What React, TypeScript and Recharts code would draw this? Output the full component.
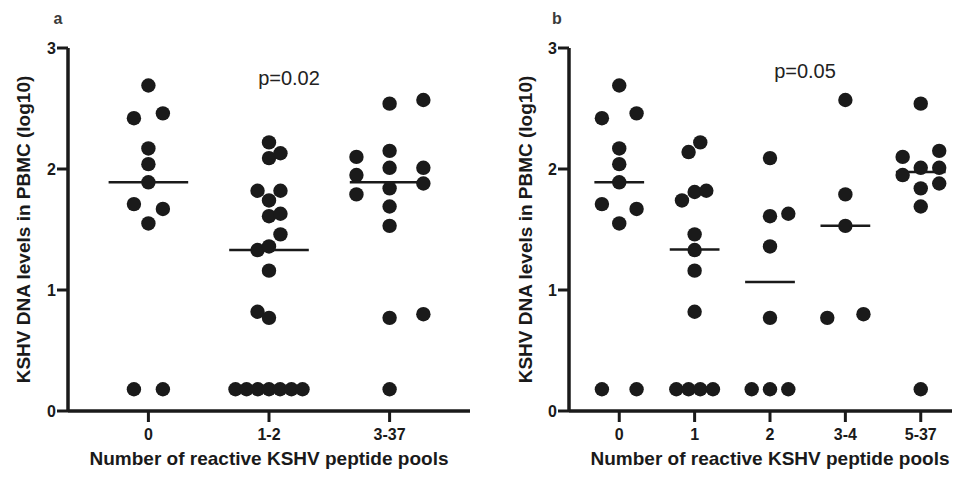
import React from 'react';
import {
  ScatterChart,
  Scatter,
  XAxis,
  YAxis,
  ReferenceLine,
  Label,
} from 'recharts';

const FONT = '"Liberation Sans", Arial, Helvetica, sans-serif';
const INK = '#1a1a1a';

// panel a: groups by number of reactive pools, points are [jitter offset, log10 value]
const LEFT_CATS = ['0', '1-2', '3-37'];
const leftPools0 = [
  [0, 2.69], [-0.12, 2.42], [0.12, 2.46], [0, 2.17], [0, 2.04], [0, 1.89],
  [-0.12, 1.71], [0.12, 1.67], [0, 1.55], [-0.12, 0.18], [0.12, 0.18],
];
const leftPools1to2 = [
  [0, 2.22], [0, 2.09], [0.095, 2.13], [-0.095, 1.82], [0.095, 1.82], [0, 1.74],
  [0, 1.61], [0.095, 1.63], [0.095, 1.46], [-0.095, 1.33], [0, 1.36], [0, 1.16],
  [-0.095, 0.82], [0, 0.77],
  [-0.278, 0.18], [-0.186, 0.18], [-0.092, 0.18], [0, 0.18], [0.092, 0.18], [0.186, 0.18], [0.278, 0.18],
];
const leftPools3to37 = [
  [0, 2.54], [0.28, 2.57], [-0.275, 2.1], [0, 2.15], [0, 2.01], [0.28, 2.01],
  [-0.275, 1.95], [0.28, 1.88], [0, 1.84], [-0.275, 1.79], [0, 1.69], [0, 1.53],
  [0, 0.77], [0.28, 0.8], [0, 0.18],
];
const LEFT_GROUPS = [leftPools0, leftPools1to2, leftPools3to37];
const LEFT_MEDIANS = [1.89, 1.33, 1.89];

// panel b
const RIGHT_CATS = ['0', '1', '2', '3-4', '5-37'];
const rightPools0 = [
  [0, 2.69], [-0.23, 2.42], [0.23, 2.46], [0, 2.17], [0, 2.04], [0, 1.89],
  [-0.23, 1.71], [0.23, 1.67], [0, 1.55], [-0.23, 0.18], [0.23, 0.18],
];
const rightPools1 = [
  [0.075, 2.22], [-0.08, 2.14], [-0.168, 1.74], [0, 1.81], [0.155, 1.82],
  [0, 1.46], [0, 1.33], [0, 1.16], [0, 0.82],
  [-0.243, 0.18], [-0.08, 0.18], [0.075, 0.18], [0.243, 0.18],
];
const rightPools2 = [
  [0, 2.09], [0, 1.61], [0.243, 1.63], [0, 1.36], [0, 0.77],
  [-0.243, 0.18], [0, 0.18], [0.243, 0.18],
];
const rightPools3to4 = [
  [0, 2.57], [0, 1.79], [0, 1.53], [-0.24, 0.77], [0.24, 0.8],
];
const rightPools5to37 = [
  [0, 2.54], [-0.24, 2.1], [0.245, 2.15], [0, 2.01], [0.245, 2.01],
  [-0.24, 1.95], [0.245, 1.88], [0, 1.84], [0, 1.69], [0, 0.18],
];
const RIGHT_GROUPS = [rightPools0, rightPools1, rightPools2, rightPools3to4, rightPools5to37];
const RIGHT_MEDIANS = [1.89, 1.335, 1.066, 1.532, 1.975];

const Y_TICKS = [0, 1, 2, 3];
const X_TITLE = 'Number of reactive KSHV peptide pools';
const Y_TITLE = 'KSHV DNA levels in PBMC (log10)';

const toPoints = (groups: number[][][]) =>
  groups.flatMap((g, i) => g.map(([dx, v]) => ({ x: i + 1 + dx, y: v })));

const Dot = (props: any) => <circle cx={props.cx} cy={props.cy} r={7.2} fill={INK} />;

interface PanelProps {
  letter: string;
  cats: string[];
  groups: number[][][];
  medians: number[];
  pText: string;
  pX: number;
  pY: number;
  width: number;
  marginLeft: number;
  marginRight: number;
  yTitleOffset: number;
  letterX: number;
}

const Panel: React.FC<PanelProps> = ({
  letter, cats, groups, medians, pText, pX, pY, width, marginLeft, marginRight, yTitleOffset, letterX,
}) => {
  const data = toPoints(groups);
  return (
    <ScatterChart
      width={width}
      height={479}
      margin={{ top: 48, right: marginRight, bottom: 38, left: marginLeft }}
      style={{ fontFamily: FONT }}
    >
      <XAxis
        type="number"
        dataKey="x"
        domain={[1 / 3, cats.length + 2 / 3]}
        ticks={cats.map((_, i) => i + 1)}
        tickFormatter={(v: number) => cats[Math.round(v) - 1] ?? ''}
        axisLine={{ stroke: INK, strokeWidth: 3.5 }}
        tickLine={{ stroke: INK, strokeWidth: 3 }}
        tickSize={11}
        tickMargin={7}
        tick={{ fill: INK, fontSize: 16, fontWeight: 'bold', fontFamily: FONT }}
        height={30}
        allowDataOverflow
      >
        <Label
          value={X_TITLE}
          position="bottom"
          offset={11}
          style={{ fill: INK, fontSize: 19, fontWeight: 'bold', fontFamily: FONT }}
        />
      </XAxis>
      <YAxis
        type="number"
        dataKey="y"
        domain={[0, 3]}
        ticks={Y_TICKS}
        axisLine={{ stroke: INK, strokeWidth: 3.5 }}
        tickLine={{ stroke: INK, strokeWidth: 3 }}
        tickSize={11}
        tickMargin={1}
        tick={{ fill: INK, fontSize: 16, fontWeight: 'bold', fontFamily: FONT }}
        width={60}
      >
        <Label
          value={Y_TITLE}
          angle={-90}
          position="insideLeft"
          offset={yTitleOffset}
          style={{ textAnchor: 'middle', fill: INK, fontSize: 19, fontWeight: 'bold', fontFamily: FONT }}
        />
      </YAxis>
      {medians.map((m, i) => (
        <ReferenceLine
          key={`med-${i}`}
          segment={[{ x: i + 1 - 0.33, y: m }, { x: i + 1 + 0.33, y: m }]}
          stroke={INK}
          strokeWidth={2.5}
        />
      ))}
      <Scatter data={data} shape={Dot} isAnimationActive={false} />
      <text x={letterX} y={24} textAnchor="middle" fontSize={16} fontWeight="bold" fill="#3a3a3a" fontFamily={FONT}>
        {letter}
      </text>
      <text x={pX} y={pY} textAnchor="middle" fontSize={20} fill="#222" fontFamily={FONT}>
        {pText}
      </text>
    </ScatterChart>
  );
};

export default function App() {
  return (
    <div
      style={{
        position: 'relative',
        width: 960,
        height: 479,
        margin: -8,
        overflow: 'hidden',
        background: '#fff',
      }}
    >
      <div style={{ position: 'absolute', left: 0, top: 0 }}>
        <Panel
          letter="a"
          cats={LEFT_CATS}
          groups={LEFT_GROUPS}
          medians={LEFT_MEDIANS}
          pText="p=0.02"
          pX={289}
          pY={85}
          width={480}
          marginLeft={8}
          marginRight={10}
          yTitleOffset={15}
          letterX={58}
        />
      </div>
      <div style={{ position: 'absolute', left: 480, top: 0 }}>
        <Panel
          letter="b"
          cats={RIGHT_CATS}
          groups={RIGHT_GROUPS}
          medians={RIGHT_MEDIANS}
          pText="p=0.05"
          pX={325}
          pY={78}
          width={500}
          marginLeft={29}
          marginRight={9}
          yTitleOffset={16}
          letterX={77}
        />
      </div>
    </div>
  );
}
